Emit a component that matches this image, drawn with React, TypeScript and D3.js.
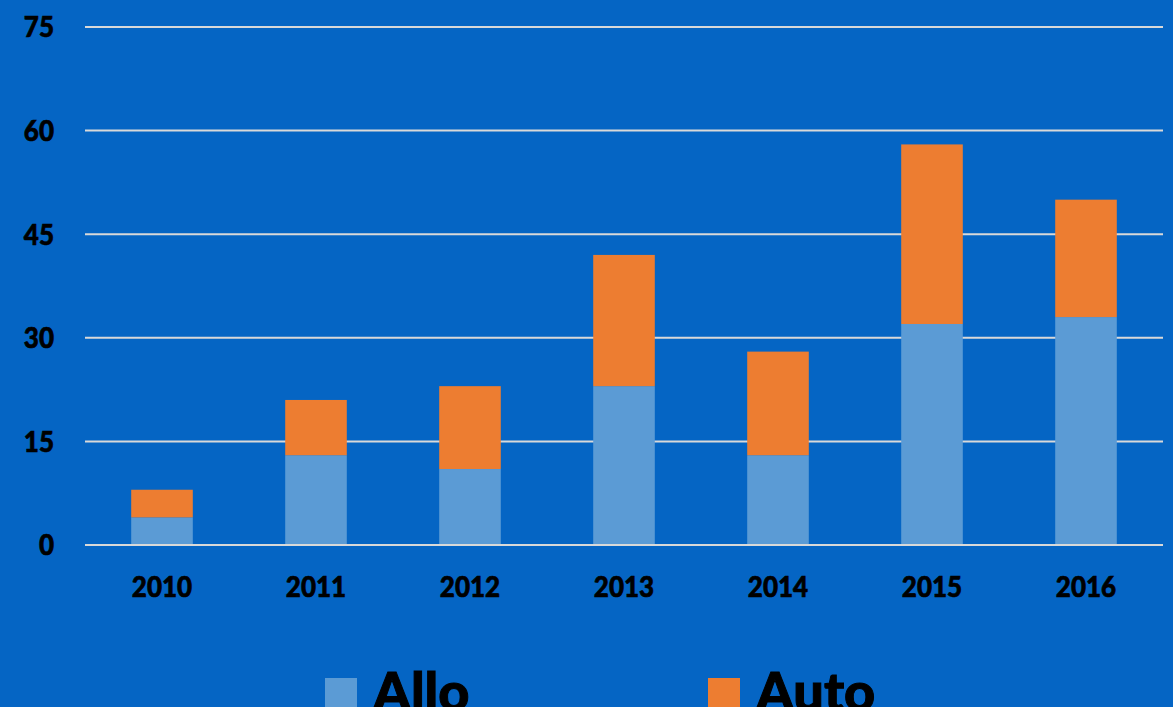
import React from "react";
import * as d3 from "d3";

const years = ["2010", "2011", "2012", "2013", "2014", "2015", "2016"];
const allo = [4, 13, 11, 23, 13, 32, 33];
const auto = [4, 8, 12, 19, 15, 26, 17];
const yTicks = [0, 15, 30, 45, 60, 75];
const seriesNames = ["Allo", "Auto"];
const seriesColors = ["#5B9BD5", "#ED7D31"];

const W = 1173;
const H = 707;
const FONT = "Lato, 'Open Sans', sans-serif";

export default function App() {
  const x = d3.scaleBand().domain(years).range([85, 1163]).paddingInner(0.6).paddingOuter(0.3);
  const y = d3.scaleLinear().domain([0, 75]).range([545, 27]);

  const rows = years.map((yr, i) => ({ year: yr, Allo: allo[i], Auto: auto[i] }));
  const stacked = d3.stack<any>().keys(seriesNames)(rows);

  const legendX = [325, 708];

  // heavier glyphs, closer to the bold face of the reference
  const labelStyle = {
    fontFamily: FONT,
    fontWeight: 900,
    fontSize: 26,
    fill: "#000",
    stroke: "#000",
    strokeWidth: 0.6,
  } as const;

  return (
    <svg
      width={W}
      height={H}
      style={{ position: "absolute", left: 0, top: 0, background: "#0565C4" }}
    >
      <rect x={0} y={0} width={W} height={H} fill="#0565C4" />
      {yTicks.map((t) => (
        <g key={t}>
          <line x1={85} x2={1163} y1={y(t)} y2={y(t)} stroke="#D9D9D9" strokeWidth={2} />
          <text
            transform={`translate(54,${y(t)}) scale(1,1.1)`}
            dy="0.36em"
            textAnchor="end"
            style={labelStyle}
          >
            {t}
          </text>
        </g>
      ))}
      {stacked.map((s, si) => (
        <g key={s.key} fill={seriesColors[si]}>
          {s.map((d, i) => (
            <rect
              key={years[i]}
              x={x(years[i])}
              width={x.bandwidth()}
              y={y(d[1])}
              height={y(d[0]) - y(d[1])}
            />
          ))}
        </g>
      ))}
      <line x1={85} x2={1163} y1={y(0)} y2={y(0)} stroke="#D9D9D9" strokeWidth={2} />
      {years.map((yr) => (
        <text
          key={yr}
          transform={`translate(${(x(yr) as number) + x.bandwidth() / 2},597) scale(1,1.1)`}
          textAnchor="middle"
          style={labelStyle}
        >
          {yr}
        </text>
      ))}
      {seriesNames.map((n, i) => (
        <g key={n}>
          <rect x={legendX[i]} y={678} width={32} height={32} fill={seriesColors[i]} />
          <text
            x={legendX[i] + 48}
            y={711}
            style={{ ...labelStyle, fontSize: 54, strokeWidth: 1 }}
          >
            {n}
          </text>
        </g>
      ))}
    </svg>
  );
}
